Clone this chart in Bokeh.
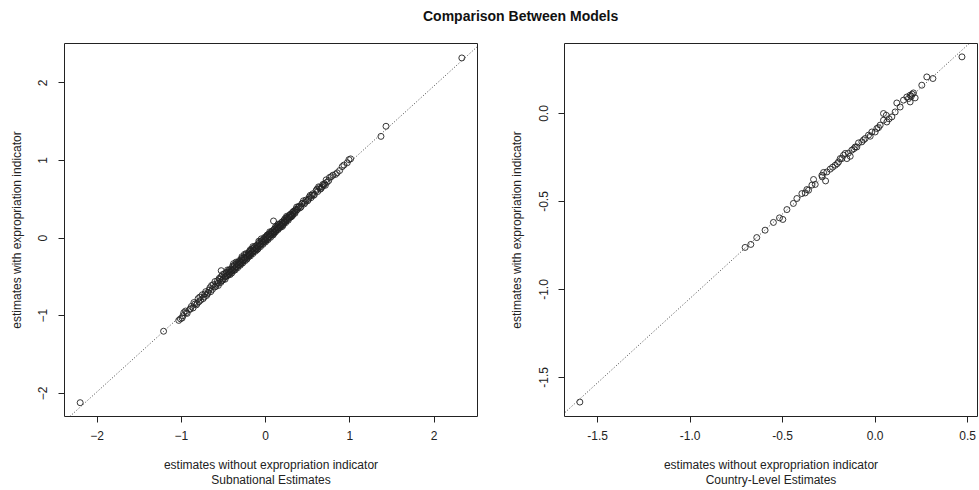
from bokeh.plotting import figure
from bokeh.models import Range1d, FixedTicker, Slope, Div, NumeralTickFormatter
from bokeh.layouts import column, row
from bokeh.embed import file_html
from bokeh.resources import INLINE

# ---------------- data ----------------
main_title = "Comparison Between Models"
xlab = "estimates without expropriation indicator"
ylab = "estimates with expropriation indicator"
sub_left = "Subnational Estimates"
sub_right = "Country-Level Estimates"

sub_x = [-2.20, -1.21, -1.03, -1.01, -0.99, -0.97, -0.95, -0.93, -0.90, -0.88, -0.86, -0.84,
         -0.82, -0.80, -0.79, -0.77, -0.75, -0.73, -0.72, -0.70, -0.68, -0.66, -0.65, -0.63,
         -0.62, -0.60, -0.58, -0.56, -0.55, -0.53, -0.526, -0.52, -0.51, -0.50, -0.48, -0.47,
         -0.46, -0.45, -0.44, -0.43, -0.42, -0.41, -0.40, -0.39, -0.38, -0.37, -0.36, -0.35,
         -0.34, -0.33, -0.32, -0.31, -0.30, -0.29, -0.28, -0.27, -0.26, -0.25, -0.24, -0.23,
         -0.22, -0.21, -0.20, -0.19, -0.18, -0.17, -0.16, -0.15, -0.14, -0.13, -0.12, -0.11,
         -0.10, -0.09, -0.08, -0.07, -0.06, -0.05, -0.04, -0.03, -0.02, -0.01, 0.00, 0.01,
         0.02, 0.03, 0.04, 0.05, 0.06, 0.07, 0.08, 0.09, 0.095, 0.10, 0.11, 0.12, 0.13, 0.14,
         0.15, 0.16, 0.17, 0.18, 0.19, 0.20, 0.21, 0.22, 0.23, 0.24, 0.25, 0.26, 0.27, 0.28,
         0.29, 0.30, 0.31, 0.32, 0.33, 0.34, 0.35, 0.36, 0.38, 0.40, 0.42, 0.44, 0.46, 0.48,
         0.50, 0.52, 0.54, 0.56, 0.58, 0.60, 0.62, 0.64, 0.66, 0.68, 0.70, 0.73, 0.76, 0.80,
         0.83, 0.88, 0.93, 0.97, 0.99, 1.01, 1.37, 1.43, 2.33,
         -0.45, -0.40, -0.35, -0.30, -0.25, -0.20, -0.15, -0.10, -0.05, 0.00, 0.05, 0.10,
         0.15, 0.20, 0.25, 0.30, -0.38, -0.28, -0.18, -0.08, 0.02, 0.12, 0.22, 0.32, 0.37,
         0.41, 0.45, 0.55, 0.63, 0.67, 0.71, 0.72,
         -0.60, -0.59, -0.57, -0.56, -0.54, -0.53, -0.51, -0.49, -0.48, -0.47, -0.46, -0.44,
         -0.43, -0.42, -0.41, -0.39, -0.38, -0.37, -0.36, -0.35, -0.34, -0.33, -0.32, -0.31,
         -0.30, -0.29, -0.28, -0.27, -0.26, -0.25, -0.24, -0.23, -0.22, -0.21, -0.20, -0.19,
         -0.18, -0.17, -0.16, -0.15, -0.14, -0.13, -0.12, -0.11, -0.10, -0.09, -0.08, -0.07,
         -0.06, -0.05, -0.04, -0.03, -0.02, -0.01, 0.00, 0.01, 0.02, 0.03, 0.04, 0.05, 0.06,
         0.07, 0.08, 0.09, 0.10, 0.11, 0.12, 0.13, 0.14, 0.15, 0.16, 0.17, 0.18, 0.19, 0.20,
         0.21, 0.22, 0.23, 0.24, 0.25, 0.26, 0.27, 0.28, 0.29, 0.31, 0.33, 0.35, 0.37, 0.39,
         0.43, 0.47, 0.51, 0.53, 0.57, 0.61, 0.65, 0.69, 0.75, 0.78, 0.85, 0.91, -0.69, -0.71,
         -0.74, -0.78, -0.81, -0.85, -0.89, -0.94, -0.98, -0.64, -0.67]
sub_y = [-2.12, -1.20, -1.06, -1.04, -1.03, -0.96, -0.94, -0.97, -0.92, -0.88, -0.90, -0.85,
         -0.86, -0.78, -0.82, -0.80, -0.73, -0.76, -0.72, -0.74, -0.70, -0.64, -0.69, -0.66,
         -0.60, -0.63, -0.59, -0.58, -0.52, -0.57, -0.42, -0.55, -0.47, -0.53, -0.50, -0.45,
         -0.49, -0.48, -0.43, -0.46, -0.44, -0.40, -0.42, -0.41, -0.37, -0.40, -0.38, -0.34,
         -0.37, -0.35, -0.31, -0.34, -0.32, -0.28, -0.31, -0.29, -0.25, -0.28, -0.26, -0.22,
         -0.25, -0.23, -0.19, -0.22, -0.20, -0.16, -0.19, -0.17, -0.13, -0.16, -0.14, -0.10,
         -0.13, -0.11, -0.07, -0.10, -0.08, -0.04, -0.07, -0.05, -0.01, -0.04, -0.02, 0.02,
         -0.01, 0.01, 0.05, 0.02, 0.04, 0.08, 0.05, 0.07, 0.22, 0.11, 0.08, 0.10, 0.14, 0.11,
         0.13, 0.17, 0.14, 0.16, 0.20, 0.18, 0.19, 0.23, 0.21, 0.22, 0.26, 0.24, 0.25, 0.29,
         0.27, 0.31, 0.30, 0.33, 0.31, 0.35, 0.34, 0.37, 0.37, 0.41, 0.40, 0.45, 0.44, 0.49,
         0.48, 0.53, 0.52, 0.57, 0.56, 0.61, 0.60, 0.65, 0.64, 0.69, 0.70, 0.72, 0.78, 0.81,
         0.82, 0.87, 0.94, 0.97, 1.01, 1.02, 1.31, 1.44, 2.32,
         -0.41, -0.45, -0.31, -0.35, -0.21, -0.24, -0.11, -0.15, -0.01, -0.05, 0.08, 0.06,
         0.18, 0.15, 0.28, 0.27, -0.33, -0.26, -0.15, -0.04, 0.04, 0.15, 0.20, 0.29, 0.40,
         0.39, 0.48, 0.55, 0.66, 0.66, 0.68, 0.75,
         -0.56, -0.62, -0.55, -0.61, -0.53, -0.50, -0.54, -0.46, -0.53, -0.49, -0.44, -0.47,
         -0.41, -0.47, -0.43, -0.36, -0.42, -0.35, -0.41, -0.37, -0.32, -0.38, -0.34, -0.29,
         -0.30, -0.33, -0.24, -0.32, -0.28, -0.25, -0.29, -0.20, -0.27, -0.21, -0.22, -0.17,
         -0.23, -0.19, -0.14, -0.20, -0.16, -0.11, -0.17, -0.13, -0.09, -0.14, -0.10, -0.05,
         -0.11, -0.07, -0.03, -0.08, -0.04, 0.01, 0.00, -0.03, 0.03, -0.02, 0.02, 0.06, 0.01,
         0.05, 0.09, 0.04, 0.08, 0.12, 0.08, 0.11, 0.15, 0.11, 0.14, 0.18, 0.14, 0.17, 0.21,
         0.17, 0.21, 0.25, 0.20, 0.24, 0.27, 0.23, 0.27, 0.30, 0.28, 0.34, 0.32, 0.36, 0.40,
         0.44, 0.46, 0.50, 0.55, 0.55, 0.63, 0.63, 0.68, 0.74, 0.79, 0.84, 0.92, -0.72, -0.69,
         -0.78, -0.76, -0.84, -0.83, -0.91, -0.96, -1.00, -0.61, -0.67]

cty_x = [-1.596, -0.703, -0.672, -0.640, -0.595, -0.550, -0.517, -0.499, -0.477, -0.442,
         -0.423, -0.396, -0.378, -0.369, -0.360, -0.342, -0.333, -0.324, -0.288, -0.286,
         -0.279, -0.268, -0.261, -0.243, -0.216, -0.198, -0.189, -0.180, -0.171, -0.162,
         -0.153, -0.135, -0.126, -0.108, -0.099, -0.090, -0.072, -0.054, -0.036, -0.027,
         -0.018, 0.000, 0.009, 0.027, 0.045, 0.045, 0.060, 0.063, 0.090, 0.108, 0.117,
         0.135, 0.153, 0.171, 0.189, 0.189, 0.200, 0.207, 0.216, 0.252, 0.279, 0.312, 0.469,
         -0.230, -0.205, -0.145, -0.115, -0.063, 0.018, 0.075, 0.180, 0.195]
cty_y = [-1.640, -0.761, -0.744, -0.705, -0.663, -0.619, -0.593, -0.602, -0.546, -0.511,
         -0.483, -0.455, -0.451, -0.432, -0.436, -0.407, -0.375, -0.403, -0.351, -0.360,
         -0.335, -0.383, -0.332, -0.316, -0.294, -0.275, -0.256, -0.256, -0.237, -0.227,
         -0.256, -0.243, -0.208, -0.190, -0.190, -0.167, -0.161, -0.142, -0.123, -0.129,
         -0.105, -0.105, -0.085, -0.066, 0.000, -0.038, -0.010, -0.048, -0.019, 0.009, 0.060,
         0.037, 0.076, 0.094, 0.104, 0.066, 0.110, 0.117, 0.089, 0.161, 0.208, 0.199, 0.322,
         -0.305, -0.285, -0.225, -0.200, -0.150, -0.080, -0.030, 0.085, 0.098]

# fitted lines
left_intercept, left_slope = -0.01, 0.985
right_intercept, right_slope = -0.09, 0.96

left_ticks = [-2, -1, 0, 1, 2]
right_ticks = [-1.5, -1.0, -0.5, 0.0, 0.5]

FONT = "Liberation Sans"
INK = "#222222"


def panel(w, xs, ys, xr, yr, ticks, inter, slope, sub, left_border, right_border,
          ystand, ylabstand, fmt=None):
    p = figure(width=w, height=460, x_range=Range1d(*xr), y_range=Range1d(*yr),
               output_backend="svg", toolbar_location=None,
               x_axis_label=xlab + "\n" + sub, y_axis_label=ylab,
               min_border_left=left_border, min_border_right=right_border,
               min_border_top=13, min_border_bottom=74)
    p.outline_line_color = INK
    p.outline_line_width = 1
    p.grid.visible = False
    for ax in (p.xaxis[0], p.yaxis[0]):
        ax.ticker = FixedTicker(ticks=ticks)
        ax.axis_line_color = None
        ax.major_tick_line_color = INK
        ax.major_tick_out = 6
        ax.major_tick_in = 0
        ax.minor_tick_line_color = None
        ax.major_label_text_font = FONT
        ax.major_label_text_font_size = "12px"
        ax.major_label_text_color = INK
        ax.axis_label_text_font = FONT
        ax.axis_label_text_font_size = "12px"
        ax.axis_label_text_font_style = "normal"
        ax.axis_label_text_color = INK
        ax.axis_label_text_line_height = 1.1
        if fmt is not None:
            ax.formatter = NumeralTickFormatter(format=fmt)
    p.xaxis.major_label_standoff = 8
    p.xaxis.axis_label_standoff = 15
    p.yaxis.major_label_orientation = "vertical"
    p.yaxis.major_label_standoff = ystand
    p.yaxis.axis_label_standoff = ylabstand
    p.add_layout(Slope(gradient=slope, y_intercept=inter, line_color="#444444",
                       line_width=1, line_dash="1 2"))
    p.scatter(xs, ys, marker="circle", size=6, fill_color=None,
              line_color=INK, line_width=0.9)
    return p


p1 = panel(490, sub_x, sub_y, (-2.386, 2.516), (-2.298, 2.506), left_ticks,
           left_intercept, left_slope, sub_left, 64, 13, 11, 12)
p2 = panel(489, cty_x, cty_y, (-1.679, 0.553), (-1.722, 0.398), right_ticks,
           right_intercept, right_slope, sub_right, 74, 2, 10, 13, fmt="0.0")

title = Div(text=main_title, width=979, height=30, margin=0,
            styles={"text-align": "left", "text-indent": "423px", "font-weight": "bold",
                    "font-family": FONT, "font-size": "14px", "color": "#111111",
                    "line-height": "32px", "white-space": "nowrap"})

layout = column(title, row(p1, p2))
open("out.html", "w").write(file_html(layout, INLINE))
